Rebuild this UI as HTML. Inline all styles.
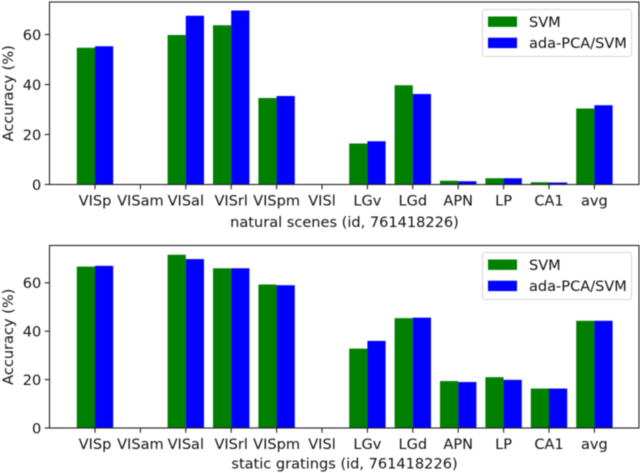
<!DOCTYPE html>
<html>
<head>
<meta charset="utf-8">
<style>
html,body{margin:0;padding:0;background:#fff;width:640px;height:473px;overflow:hidden}
svg{display:block}
text{font-family:"DejaVu Sans",sans-serif;fill:#111}
</style>
</head>
<body>
<svg id="fig" width="640" height="473" viewBox="0 0 640 473" xmlns="http://www.w3.org/2000/svg" style="filter:blur(0.4px)"></svg>
<script>
const categories = ["VISp","VISam","VISal","VISrl","VISpm","VISl","LGv","LGd","APN","LP","CA1","avg"];
const yTicks = [0,20,40,60];
const seriesNames = ["SVM","ada-PCA/SVM"];
const sceneSvm = [54.7,0,59.8,63.7,34.6,0,16.4,39.7,1.5,2.5,0.9,30.4];
const sceneAda = [55.3,0,67.5,69.6,35.4,0,17.3,36.2,1.3,2.5,0.8,31.7];
const gratingSvm = [66.7,0,71.6,66,59.3,0,32.8,45.4,19.4,21,16.3,44.3];
const gratingAda = [67,0,69.8,66,59,0,36,45.6,19,19.9,16.3,44.3];
const sceneTitle = "natural scenes (id, 761418226)";
const gratingTitle = "static gratings (id, 761418226)";

const NS = "http://www.w3.org/2000/svg";
const fig = document.getElementById("fig");
const colors = ["#008000","#0000ff"];
const left = 49.5, right = 639;
const fontSize = 14.55;
function xScale(i){ return 95 + 45.4 * i; }
const barW = 18.2;

function mk(tag, attrs, parent){
  const el = document.createElementNS(NS, tag);
  for (const k in attrs) el.setAttribute(k, attrs[k]);
  parent.appendChild(el);
  return el;
}

function drawPanel(prefix, top, bottom, pxPerUnit, a, b, title, titleY, legendTop){
  const y = v => bottom - v * pxPerUnit;
  const g = mk("g", {}, fig);
  
  

  [a, b].forEach((vals, s) => {
    vals.forEach((v, i) => {
      if (v <= 0) return;
      const x = xScale(i) + (s === 0 ? -barW : 0);
      const r = mk("rect", {x: x, y: y(v), width: barW, height: bottom - y(v), fill: colors[s]}, g);
      
      
    });
  });

  const frame = mk("rect", {x: left, y: top, width: right - left, height: bottom - top, fill: "none", stroke: "#222", "stroke-width": 1.1}, g);
  
  

  yTicks.forEach(t => {
    const tick = mk("line", {x1: left - 4.8, x2: left, y1: y(t), y2: y(t), stroke: "#222", "stroke-width": 1.1}, g);
    
    
    const lab = mk("text", {x: left - 8.2, y: y(t) + 5.3, "text-anchor": "end", "font-size": fontSize}, g);
    lab.textContent = t;
    
    
  });

  categories.forEach((c, i) => {
    const tick = mk("line", {x1: xScale(i), x2: xScale(i), y1: bottom, y2: bottom + 4.8, stroke: "#222", "stroke-width": 1.1}, g);
    
    
    const lab = mk("text", {x: xScale(i), y: bottom + 21, "text-anchor": "middle", "font-size": fontSize}, g);
    lab.textContent = c;
    
    
  });

  const xt = mk("text", {x: 344.5, y: titleY, "text-anchor": "middle", "font-size": fontSize}, g);
  xt.textContent = title;
  
  

  const cy = (top + bottom) / 2;
  const yt = mk("text", {x: 0, y: 0, "text-anchor": "middle", "font-size": fontSize, transform: "translate(13," + cy + ") rotate(-90)"}, g);
  yt.textContent = "Accuracy (%)";
  
  

  const lg = mk("g", {}, g);
  
  
  const box = mk("rect", {x: 482.5, y: legendTop, width: 149, height: 47, rx: 2.5, fill: "#fff", "fill-opacity": 0.8, stroke: "#d6d6d6", "stroke-width": 1}, lg);
  
  
  seriesNames.forEach((n, s) => {
    const sy = legendTop + 7 + s * 21.2;
    const sw = mk("rect", {x: 488, y: sy, width: 29, height: 10.4, fill: colors[s]}, lg);
    
    
    const tx = mk("text", {x: 529, y: sy + 10.5, "font-size": fontSize}, lg);
    tx.textContent = n;
    
    
  });
}

drawPanel("scenes", 2, 184.5, 2.5, sceneSvm, sceneAda, sceneTitle, 227, 9.5);
drawPanel("gratings", 245.5, 428, 2.42, gratingSvm, gratingAda, gratingTitle, 468.5, 252.5);
</script>
</body>
</html>
